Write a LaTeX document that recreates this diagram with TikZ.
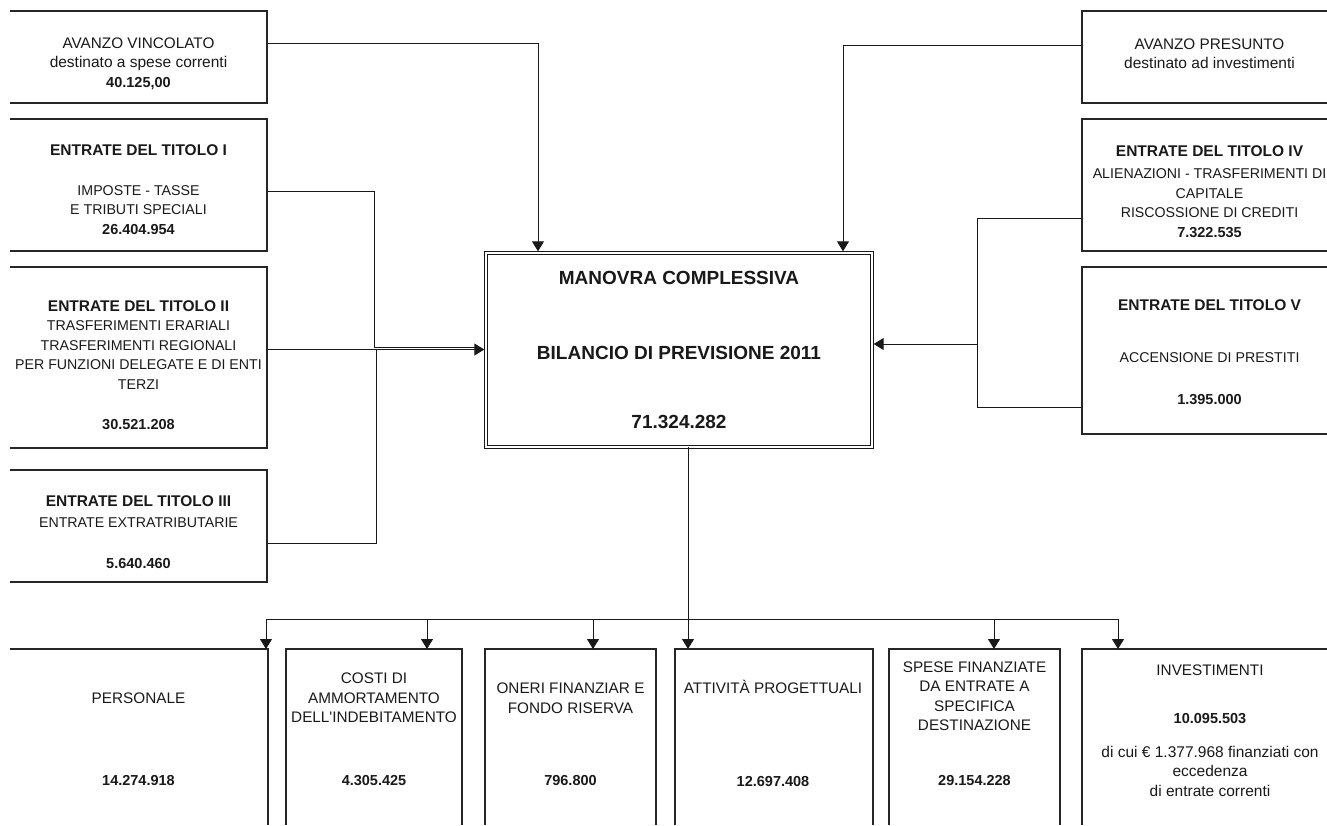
\documentclass[tikz,border=0pt]{standalone}
\usepackage{fontspec}
\setmainfont{Liberation Sans}
\usetikzlibrary{arrows.meta}
\newcommand{\txtN}{\fontsize{14.2}{19.5}\selectfont}
\newcommand{\txtB}{\fontsize{15.3}{19.5}\selectfont}
\newcommand{\txtL}{\fontsize{15.5}{19.5}\selectfont}
\newcommand{\txtT}{\fontsize{15.5}{19.5}\selectfont\bfseries}
\newcommand{\txtV}{\fontsize{14.5}{19.5}\selectfont\bfseries}
\newcommand{\txtC}{\fontsize{19}{19.5}\selectfont\bfseries}
\begin{document}
\begin{tikzpicture}[x=1pt,y=-1pt,
 ln/.style={line width=1.1pt, draw=black!85},
 conn/.style={line width=1pt, draw=black!90},
 arr/.style={conn, -{Triangle[length=10pt,width=12pt]}},
 boxn/.style={rectangle, draw=none, inner sep=0pt, outer sep=0pt, anchor=north west},
 txt/.style={align=center, inner sep=0pt, font=\txtN, text=black!90},
 btxt/.style={txt, font=\txtB}]
\useasboundingbox (0,0) rectangle (1327,825);

% boxes
\node[boxn, minimum width=257pt, minimum height=92pt]  (avv) at (10,11) {};
\node[boxn, minimum width=257pt, minimum height=132pt] (t1) at (10,119) {};
\node[boxn, minimum width=257pt, minimum height=181pt] (t2) at (10,267) {};
\node[boxn, minimum width=257pt, minimum height=112pt] (t3) at (10,470) {};
\node[boxn, minimum width=245pt, minimum height=92pt]  (avp) at (1082,11) {};
\node[boxn, minimum width=245pt, minimum height=132pt] (t4) at (1082,119) {};
\node[boxn, minimum width=245pt, minimum height=167pt] (t5) at (1082,267) {};
\node[boxn, draw=black!90, double, double distance=1.6pt, line width=0.9pt,
      minimum width=386pt, minimum height=194pt] (mc) at (486,253) {};
\node[boxn, minimum width=258pt, minimum height=176pt] (pers) at (10,649) {};
\node[boxn, minimum width=176pt, minimum height=176pt] (cost) at (286,649) {};
\node[boxn, minimum width=171pt, minimum height=176pt] (oner) at (485,649) {};
\node[boxn, minimum width=198pt, minimum height=176pt] (att) at (675,649) {};
\node[boxn, minimum width=171pt, minimum height=176pt] (spese) at (889,649) {};
\node[boxn, minimum width=245pt, minimum height=176pt] (inv) at (1082,649) {};

% open borders
\foreach \b in {avv,t1,t2,t3}
  \draw[ln] (\b.north west) -- (\b.north east) -- (\b.south east) -- (\b.south west);
\foreach \b in {avp,t4,t5}
  \draw[ln] (\b.north east) -- (\b.north west) -- (\b.south west) -- (\b.south east);
\foreach \b in {cost,oner,att,spese}
  \draw[ln] (\b.south west) -- (\b.north west) -- (\b.north east) -- (\b.south east);
\draw[ln] (pers.north west) -- (pers.north east) -- (pers.south east);
\draw[ln] (inv.south west) -- (inv.north west) -- (inv.north east);

% texts
\node[txt] (avvT) at (138.5,63.5) {{\txtB AVANZO VINCOLATO}\\{\txtL destinato a spese correnti}\\{\txtV 40.125,00}};
\node[txt] (t1T) at (138.5,189.5) {{\txtT ENTRATE DEL TITOLO I}\\[20.5pt]IMPOSTE - TASSE\\E TRIBUTI SPECIALI\\{\txtV 26.404.954}};
\node[txt] (t2T) at (138.5,365) {{\txtT ENTRATE DEL TITOLO II}\\TRASFERIMENTI ERARIALI\\TRASFERIMENTI REGIONALI\\PER FUNZIONI DELEGATE E DI ENTI\\TERZI\\[20.5pt]{\txtV 30.521.208}};
\node[txt] (t3T) at (138.5,532) {{\txtT ENTRATE DEL TITOLO III}\\[1.5pt]ENTRATE EXTRATRIBUTARIE\\[21.5pt]{\txtV 5.640.460}};
\node[txt] (avpT) at (1209.5,53.5) {{\txtB AVANZO PRESUNTO}\\{\txtL destinato ad investimenti}};
\node[txt] (t4T) at (1209.5,191.5) {{\txtT ENTRATE DEL TITOLO IV}\\[2.5pt]ALIENAZIONI - TRASFERIMENTI DI\\CAPITALE\\RISCOSSIONE DI CREDITI\\{\txtV 7.322.535}};
\node[txt] (t5T) at (1209.5,352) {{\txtT ENTRATE DEL TITOLO V}\\[32.5pt]ACCENSIONE DI PRESTITI\\[22.5pt]{\txtV 1.395.000}};
\node[txt, font=\txtC] (mcT) at (679,350) {MANOVRA COMPLESSIVA\\[55.5pt]BILANCIO DI PREVISIONE 2011\\[49.5pt]71.324.282};
\node[btxt] (persT) at (138.5,739) {PERSONALE\\[62.5pt]{\txtV 14.274.918}};
\node[btxt] (costT) at (374,729) {COSTI DI\\AMMORTAMENTO\\DELL\textquotesingle INDEBITAMENTO\\[43pt]{\txtV 4.305.425}};
\node[btxt] (onerT) at (570.5,734) {ONERI FINANZIAR E\\FONDO RISERVA\\[52.5pt]{\txtV 796.800}};
\node[btxt] (attT) at (773,733.5) {ATTIVITÀ PROGETTUALI\\[73.5pt]{\txtV 12.697.408}};
\node[btxt] (speseT) at (974.5,723.5) {SPESE FINANZIATE\\DA ENTRATE A\\SPECIFICA\\DESTINAZIONE\\[35pt]{\txtV 29.154.228}};
\node[btxt] (invT) at (1210,730.5) {INVESTIMENTI\\[28.5pt]{\txtV 10.095.503}\\[14.5pt]{\txtL di cui € 1.377.968 finanziati con}\\{\txtL eccedenza}\\{\txtL di entrate correnti}};

% top connectors
\draw[arr, shorten >=1.7pt] ([yshift=14pt]avv.east) -| ([xshift=-141pt]mc.north);
\draw[arr, shorten >=1.7pt] ([yshift=12pt]avp.west) -| ([xshift=164pt]mc.north);

% left junction
\coordinate (jl1) at (374,347);
\coordinate (jl) at (376,349.5);
\draw[conn, shorten >=8pt] ([yshift=-6pt]t1.east) -| (jl1) -- (jl1 -| mc.west);
\draw[conn] ([yshift=-17pt]t3.east) -| (jl);
\draw[arr, shorten >=1.7pt] ([yshift=8pt]t2.east) -- (jl -| mc.west);

% right junction
\coordinate (jr) at (977,344);
\draw[conn] ([yshift=-33pt]t4.west) -| (jr);
\draw[conn] ([yshift=-56.5pt]t5.west) -| (jr);
\draw[arr, shorten >=1.7pt] (jr) -- (jr -| mc.east);

% bottom distribution
\coordinate (busy) at ([yshift=30pt]pers.north);
\coordinate (d1) at ([xshift=-2pt]pers.north east);
\coordinate (d2) at ([xshift=53pt]cost.north);
\coordinate (d3) at ([xshift=22.5pt]oner.north);
\coordinate (d4) at ([xshift=-86pt]att.north);
\coordinate (d5) at ([xshift=19.5pt]spese.north);
\coordinate (d6) at ([xshift=-86.5pt]inv.north);
\draw[conn] (d1 |- busy) -- (d6 |- busy);
\foreach \d in {d1,d2,d3,d5,d6}
  \draw[arr] (\d |- busy) -- (\d);
\draw[arr] ([xshift=9pt]mc.south) -- (d4);
\end{tikzpicture}
\end{document}
